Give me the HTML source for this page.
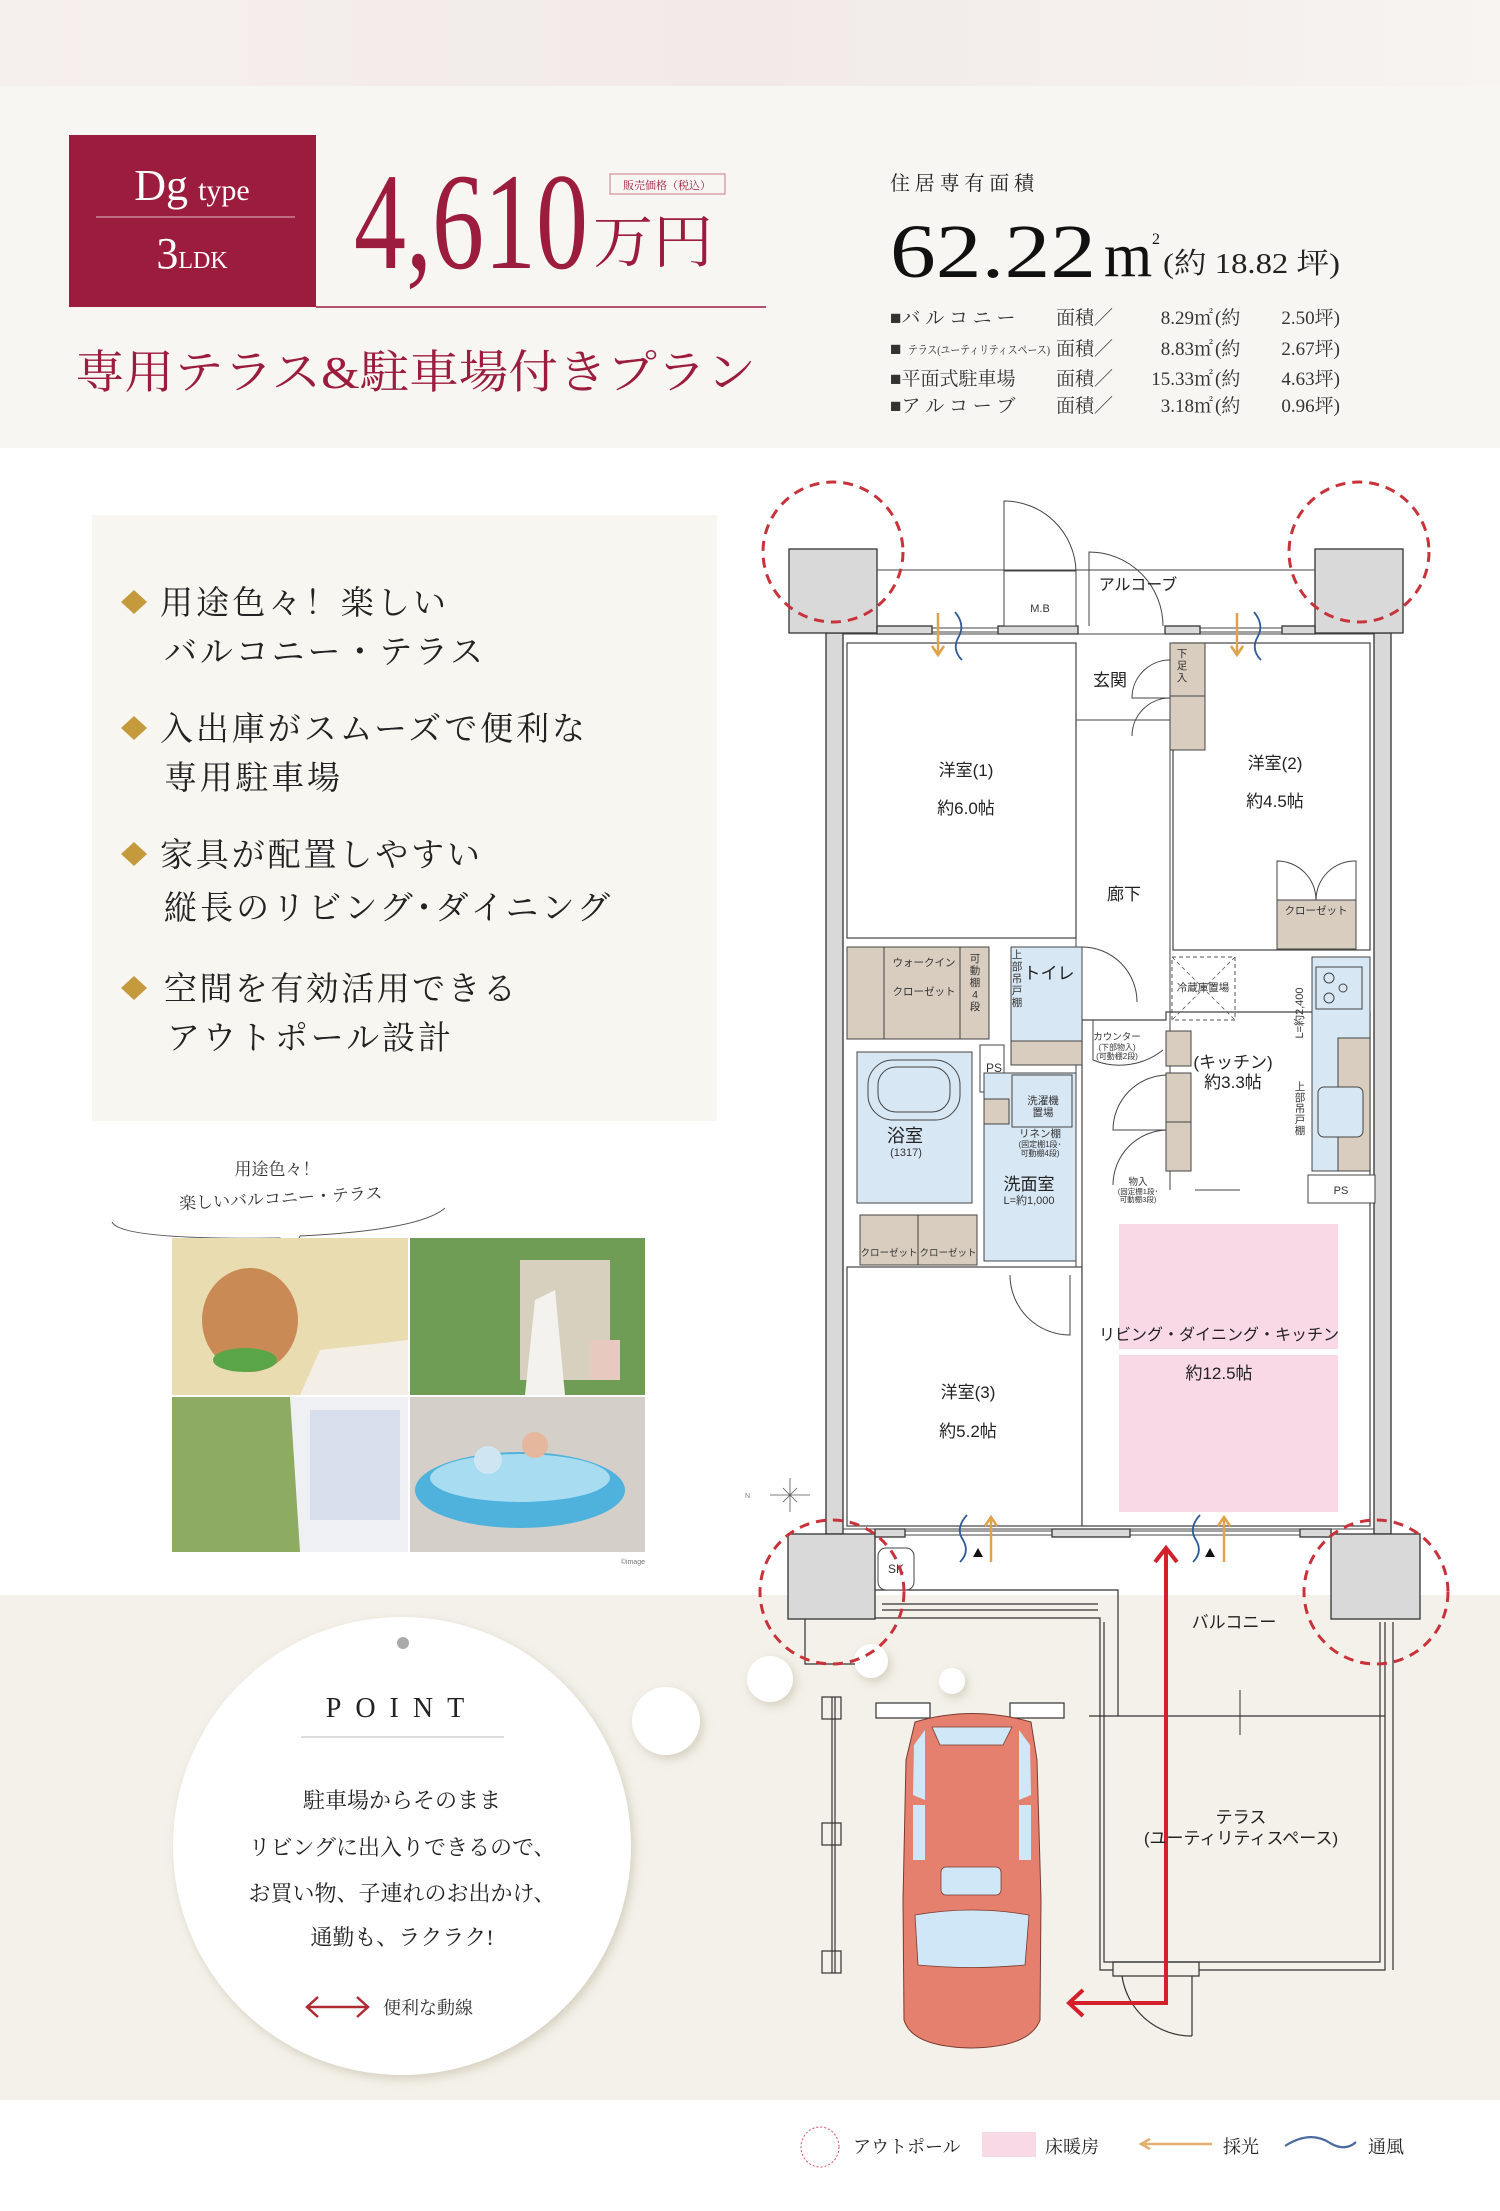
<!DOCTYPE html>
<html><head><meta charset="utf-8">
<style>
html,body{margin:0;padding:0;background:#fff;}
svg{display:block;}
.s{font-family:"Liberation Sans","Noto Sans CJK JP",sans-serif;}
.m{font-family:"Liberation Serif","Noto Serif CJK SC",serif;}
</style></head>
<body>
<svg width="1500" height="2211" viewBox="0 0 1500 2211" xmlns="http://www.w3.org/2000/svg">
<defs>
<linearGradient id="tg" x1="0" x2="1" y1="0" y2="0"><stop offset="0" stop-color="#f5efed"/><stop offset="0.5" stop-color="#f1eae8"/><stop offset="1" stop-color="#f7f4f1"/></linearGradient>
<filter id="sh" x="-20%" y="-20%" width="140%" height="140%"><feDropShadow dx="3" dy="4" stdDeviation="5" flood-color="#9a9070" flood-opacity="0.35"/></filter>
</defs>
<rect x="0" y="0" width="1500" height="2211" fill="#fff"/>
<rect x="0" y="0" width="1500" height="448" fill="#f8f6f2"/>
<rect x="0" y="0" width="1500" height="86" fill="url(#tg)"/>
<rect x="0" y="1595" width="1500" height="505" fill="#f4f1ea"/>

<rect x="69" y="135" width="247" height="172" fill="#9c1c3d"/>
<text x="192" y="200" text-anchor="middle" fill="#fff" class="m"><tspan font-size="44">Dg</tspan><tspan font-size="30" dx="10">type</tspan></text>
<line x1="96" y1="217" x2="295" y2="217" stroke="#fff" stroke-opacity="0.7" stroke-width="1"/>
<text x="192" y="268" text-anchor="middle" fill="#fff" class="m"><tspan font-size="44">3</tspan><tspan font-size="24">LDK</tspan></text>
<text x="354" y="268" font-size="138" fill="#9c1c3d" class="m" textLength="234" lengthAdjust="spacingAndGlyphs">4,610</text>
<text x="593" y="262" font-size="58" fill="#9c1c3d" class="m" textLength="120" lengthAdjust="spacingAndGlyphs">万円</text>
<rect x="610" y="174" width="115" height="20" fill="none" stroke="#c77a8a" stroke-width="1"/>
<text x="667" y="189" font-size="11" text-anchor="middle" fill="#9c1c3d" class="m">販売価格（税込）</text>
<line x1="316" y1="307" x2="766" y2="307" stroke="#9c1c3d" stroke-width="1.5"/>
<text x="75" y="388" font-size="46" fill="#9c1c3d" class="m" textLength="681" lengthAdjust="spacingAndGlyphs">専用テラス&amp;駐車場付きプラン</text>

<text x="890" y="190" font-size="20" fill="#222" class="m" textLength="144">住居専有面積</text>
<text x="890" y="277" font-size="76" fill="#111" class="m" textLength="206" lengthAdjust="spacingAndGlyphs">62.22</text>
<text x="1104" y="276" font-size="62" fill="#111" class="m">m</text>
<text x="1152" y="244" font-size="16" fill="#111" class="m">2</text>
<text x="1163" y="273" font-size="29" fill="#222" class="m" textLength="177" lengthAdjust="spacingAndGlyphs">(約 18.82 坪)</text>
<g font-size="19" fill="#333" class="m">
<text x="890" y="324">■バ ル コ ニ ー</text><text x="1056" y="324">面積／</text><text x="1213" y="324" text-anchor="end">8.29㎡</text><text x="1215" y="324">(約</text><text x="1340" y="324" text-anchor="end">2.50坪)</text>
<text x="890" y="355">■</text><text x="908" y="354" font-size="12" textLength="142" lengthAdjust="spacingAndGlyphs">テラス(ユーティリティスペース)</text><text x="1056" y="355">面積／</text><text x="1213" y="355" text-anchor="end">8.83㎡</text><text x="1215" y="355">(約</text><text x="1340" y="355" text-anchor="end">2.67坪)</text>
<text x="890" y="385">■平面式駐車場</text><text x="1056" y="385">面積／</text><text x="1213" y="385" text-anchor="end">15.33㎡</text><text x="1215" y="385">(約</text><text x="1340" y="385" text-anchor="end">4.63坪)</text>
<text x="890" y="412">■ア ル コ ー ブ</text><text x="1056" y="412">面積／</text><text x="1213" y="412" text-anchor="end">3.18㎡</text><text x="1215" y="412">(約</text><text x="1340" y="412" text-anchor="end">0.96坪)</text>
</g>

<rect x="92" y="515" width="625" height="606" fill="#f8f6f1"/>
<g fill="#c49a3c">
<path d="M121 602 L134 590 L147 602 L134 614Z"/>
<path d="M121 728 L134 716 L147 728 L134 740Z"/>
<path d="M121 854 L134 842 L147 854 L134 866Z"/>
<path d="M121 988 L134 976 L147 988 L134 1000Z"/>
</g>
<g font-size="33" fill="#222" class="m">
<text x="160" y="614" textLength="286">用途色々！楽しい</text>
<text x="164" y="663" textLength="319">バルコニー・テラス</text>
<text x="160" y="740" textLength="425">入出庫がスムーズで便利な</text>
<text x="164" y="789" textLength="176">専用駐車場</text>
<text x="160" y="866" textLength="320">家具が配置しやすい</text>
<text x="164" y="919" textLength="446">縦長のリビング･ダイニング</text>
<text x="164" y="1000" textLength="352">空間を有効活用できる</text>
<text x="167" y="1049" textLength="284">アウトポール設計</text>
</g>

<text x="277" y="1175" font-size="17" text-anchor="middle" fill="#333" class="m">用途色々！</text>
<text x="281" y="1204" font-size="17" text-anchor="middle" fill="#333" class="m" transform="rotate(-3 281 1204)">楽しいバルコニー・テラス</text>
<path d="M112 1222 Q120 1240 280 1238 L294 1250 L300 1236 Q420 1230 445 1208" fill="none" stroke="#555" stroke-width="1"/>
<rect x="172" y="1238" width="236" height="157" fill="#e9dcb0"/>
<ellipse cx="250" cy="1320" rx="48" ry="52" fill="#c98a55"/>
<ellipse cx="245" cy="1360" rx="32" ry="12" fill="#5aa548"/>
<path d="M300 1395 L320 1350 L408 1340 L408 1395Z" fill="#f3eee6"/>
<rect x="410" y="1238" width="235" height="157" fill="#6f9d55"/>
<rect x="520" y="1260" width="90" height="120" fill="#d7d0be"/>
<path d="M535 1300 L555 1290 L565 1395 L525 1395Z" fill="#f4f2ee"/>
<rect x="590" y="1340" width="30" height="40" fill="#e8c9c0"/>
<rect x="172" y="1397" width="236" height="155" fill="#8eab62"/>
<path d="M290 1397 L408 1397 L408 1552 L300 1552Z" fill="#eef0f4"/>
<path d="M310 1410 L400 1410 L400 1520 L310 1520Z" fill="#c7d3e4" opacity="0.6"/>
<rect x="410" y="1397" width="235" height="155" fill="#d4cfc8"/>
<ellipse cx="520" cy="1490" rx="105" ry="38" fill="#4fb2dd"/>
<ellipse cx="520" cy="1478" rx="90" ry="24" fill="#a8dcf0"/>
<circle cx="535" cy="1445" r="13" fill="#e5b89d"/>
<circle cx="488" cy="1460" r="14" fill="#cfe6f2"/>
<text x="645" y="1564" font-size="7" text-anchor="end" fill="#777" class="s">©image</text>

<g filter="url(#sh)" fill="#fff">
<circle cx="666" cy="1721" r="34"/>
<circle cx="770" cy="1679" r="23"/>
<circle cx="871" cy="1661" r="17"/>
<circle cx="952" cy="1681" r="13"/>
<circle cx="402" cy="1846" r="229"/>
</g>
<circle cx="403" cy="1643" r="6" fill="#aaa"/>
<text x="402" y="1717" font-size="28" text-anchor="middle" fill="#222" class="m" letter-spacing="14">POINT</text>
<line x1="301" y1="1737" x2="504" y2="1737" stroke="#bbb" stroke-width="1"/>
<g font-size="22" text-anchor="middle" fill="#222" class="m">
<text x="402" y="1808">駐車場からそのまま</text>
<text x="402" y="1855">リビングに出入りできるので、</text>
<text x="402" y="1901">お買い物、子連れのお出かけ、</text>
<text x="402" y="1945">通勤も、ラクラク!</text>
</g>
<g stroke="#b02a33" stroke-width="2.5" fill="none"><line x1="307" y1="2007" x2="368" y2="2007"/><path d="M318 1997 L307 2007 L318 2017 M357 1997 L368 2007 L357 2017"/></g>
<text x="383" y="2014" font-size="18" fill="#333" class="m">便利な動線</text>

<g stroke="#333" stroke-width="1.2" fill="none">
<path d="M875 1590 L1118 1590 L1118 1716"/>
<path d="M875 1618 L1100 1618 L1100 1970 L1113 1970 M1199 1970 L1385 1970 L1385 1622"/>
<path d="M882 1610 L1098 1610 M882 1604 L1098 1604"/>
<path d="M1089 1716 L1385 1716"/>
<path d="M1104 1622 L1104 1962 L1380 1962 L1380 1622"/>
<path d="M1113 1962 L1199 1962 L1199 1976 L1113 1976Z"/>
<path d="M1192 1976 L1192 2036 M1192 2036 A70 70 0 0 1 1122 1976"/>
<path d="M1393 1622 L1393 1970"/>
<path d="M1240 1690 L1240 1735" stroke-width="1"/>
<line x1="832" y1="1697" x2="832" y2="1973"/><line x1="835" y1="1697" x2="835" y2="1973"/>
<rect x="822" y="1697" width="19" height="22"/><rect x="822" y="1823" width="19" height="22"/><rect x="822" y="1951" width="19" height="22"/>
<rect x="876" y="1703" width="54" height="15" fill="#fff"/><rect x="1010" y="1703" width="54" height="15" fill="#fff"/>
<path d="M805 1619 L805 1664 L855 1664"/>
</g>

<g>
<path d="M915 1722 Q972 1705 1031 1722 L1037 1760 L1041 1900 L1040 2020 Q1030 2047 972 2048 Q912 2047 904 2020 L903 1900 L906 1760Z" fill="#e5806f" stroke="#7a3b30" stroke-width="1"/>
<path d="M932 1727 L1012 1727 L1003 1745 L940 1745Z" fill="#cfe7f7" stroke="#7a3b30" stroke-width="0.8"/>
<path d="M914 1745 L925 1730 L925 1800 L913 1795Z" fill="#cfe7f7"/>
<path d="M1030 1745 L1019 1730 L1019 1800 L1031 1795Z" fill="#cfe7f7"/>
<rect x="941" y="1867" width="60" height="28" rx="5" fill="#cfe7f7" stroke="#7a3b30" stroke-width="0.8"/>
<path d="M915 1915 Q972 1905 1029 1915 L1025 1965 Q972 1970 918 1965Z" fill="#cfe7f7" stroke="#7a3b30" stroke-width="0.8"/>
<rect x="913" y="1805" width="12" height="55" fill="#cfe7f7"/><rect x="1019" y="1805" width="12" height="55" fill="#cfe7f7"/>
</g>

<g stroke="#333" stroke-width="1.3">
<rect x="826" y="633" width="17" height="901" fill="#d9d9d9"/>
<rect x="1374" y="633" width="17" height="901" fill="#d9d9d9"/>
<rect x="789" y="549" width="88" height="84" fill="#d9d9d9"/>
<rect x="1315" y="549" width="88" height="84" fill="#d9d9d9"/>
<rect x="788" y="1534" width="87" height="85" fill="#d9d9d9"/>
<rect x="1331" y="1534" width="89" height="85" fill="#d9d9d9"/>
<rect x="877" y="626" width="55" height="8" fill="#d9d9d9"/>
<rect x="998" y="626" width="80" height="8" fill="#d9d9d9"/>
<rect x="1165" y="626" width="35" height="8" fill="#d9d9d9"/>
<rect x="1282" y="626" width="33" height="8" fill="#d9d9d9"/>
<rect x="875" y="1529" width="30" height="8" fill="#d9d9d9"/>
<rect x="1052" y="1529" width="78" height="8" fill="#d9d9d9"/>
<rect x="1300" y="1529" width="31" height="8" fill="#d9d9d9"/>
</g>
<g stroke="#444" stroke-width="1" fill="none">
<line x1="877" y1="570" x2="1315" y2="570"/>
<path d="M932 628 L998 628 M932 632 L998 632 M1200 628 L1282 628 M1200 632 L1282 632"/>
<path d="M905 1531 L1052 1531 M905 1535 L1052 1535 M1130 1531 L1300 1531 M1130 1535 L1300 1535"/>
<line x1="843" y1="634" x2="1374" y2="634"/>
<line x1="843" y1="1529" x2="1374" y2="1529"/>
<rect x="1004" y="571" width="72" height="55" fill="#fff"/>
<path d="M1004 571 L1004 501 A72 72 0 0 1 1076 571"/>
<path d="M1089 626 L1089 552 A74 74 0 0 1 1163 626"/>
</g>
<text x="1040" y="612" font-size="11" text-anchor="middle" fill="#333" class="s">M.B</text>
<text x="1138" y="590" font-size="16" text-anchor="middle" fill="#222" class="s">アルコーブ</text>

<g stroke="#444" stroke-width="1.2" fill="#fff">
<rect x="847" y="643" width="229" height="295"/>
<rect x="1173" y="643" width="197" height="307"/>
<rect x="847" y="1267" width="235" height="259"/>
<path d="M1082 1020 L1166 1020 L1166 1012 L1370 1012 L1370 1526 L1082 1526Z"/>
</g>
<g stroke="#444" stroke-width="1" fill="none">
<line x1="1076" y1="720" x2="1170" y2="720"/>
<line x1="1076" y1="643" x2="1076" y2="1267"/>
<line x1="1170" y1="750" x2="1170" y2="1190"/>
<line x1="1082" y1="1267" x2="1082" y2="1526"/>
<path d="M1195 1190 L1240 1190"/>
<path d="M1093 1020 L1093 1060 A70 70 0 0 0 1163 1050"/>
<path d="M1010 1275 A60 60 0 0 0 1070 1335 L1070 1275"/>
<path d="M1168 1075 A55 55 0 0 0 1113 1130 L1168 1130 M1168 1130 A55 55 0 0 0 1113 1185"/>
<path d="M1170 660 A38 38 0 0 0 1132 698 L1170 698 M1170 698 A38 38 0 0 0 1132 736"/>
<path d="M1082 947 A55 55 0 0 1 1137 1002"/>
</g>
<g stroke="#444" stroke-width="1">
<rect x="847" y="947" width="142" height="92" fill="#d9cdbf"/>
<line x1="884" y1="947" x2="884" y2="1039"/><line x1="960" y1="947" x2="960" y2="1039"/>
<rect x="1011" y="947" width="71" height="118" fill="#d8e7f4"/>
<rect x="1011" y="1041" width="71" height="24" fill="#d9cdbf"/>
<rect x="857" y="1052" width="115" height="151" fill="#d8e7f4"/>
<rect x="868" y="1060" width="92" height="60" rx="25" fill="#d8e7f4"/>
<rect x="878" y="1067" width="72" height="45" rx="18" fill="#d8e7f4"/>
<rect x="980" y="1045" width="24" height="47" fill="#fff"/>
<rect x="984" y="1073" width="92" height="188" fill="#d8e7f4"/>
<rect x="984" y="1099" width="25" height="25" fill="#d9cdbf"/>
<rect x="1012" y="1075" width="60" height="52" fill="#d8e7f4"/>
<rect x="860" y="1215" width="58" height="50" fill="#d9cdbf"/><rect x="918" y="1215" width="59" height="50" fill="#d9cdbf"/>
<rect x="1170" y="643" width="35" height="107" fill="#d9cdbf"/><line x1="1170" y1="696" x2="1205" y2="696"/>
<rect x="1277" y="900" width="79" height="49" fill="#d9cdbf"/>
<path d="M1277 900 L1277 861 A39 39 0 0 1 1316 900 A39 39 0 0 1 1356 861 L1356 900" fill="none"/>
<rect x="1312" y="957" width="58" height="214" fill="#d8e7f4"/>
<rect x="1338" y="1038" width="32" height="133" fill="#d9cdbf"/>
<rect x="1318" y="1087" width="45" height="50" rx="6" fill="#d8e7f4"/>
<rect x="1316" y="967" width="46" height="42" fill="#d8e7f4"/>
<circle cx="1329" cy="978" r="5" fill="none"/><circle cx="1329" cy="998" r="5" fill="none"/><circle cx="1343" cy="988" r="4" fill="none"/>
<rect x="1308" y="1175" width="67" height="28" fill="#fff"/>
<rect x="1166" y="1031" width="25" height="35" fill="#d9cdbf"/>
<rect x="1166" y="1073" width="25" height="98" fill="#d9cdbf"/><line x1="1166" y1="1122" x2="1191" y2="1122"/>
<rect x="878" y="1548" width="36" height="42" rx="8" fill="#fff"/>
</g>
<rect x="1172" y="957" width="63" height="63" fill="none" stroke="#555" stroke-width="1" stroke-dasharray="4 3"/>
<path d="M1172 957 L1235 1020 M1235 957 L1172 1020" stroke="#555" stroke-width="0.8" stroke-dasharray="4 3"/>
<rect x="1119" y="1224" width="219" height="125" fill="#f8d9e5"/>
<rect x="1119" y="1355" width="219" height="157" fill="#f8d9e5"/>

<g font-size="17" text-anchor="middle" fill="#222" class="s">
<text x="966" y="776">洋室(1)</text><text x="966" y="814">約6.0帖</text>
<text x="1275" y="769">洋室(2)</text><text x="1275" y="807">約4.5帖</text>
<text x="1110" y="686">玄関</text>
<text x="1124" y="900">廊下</text>
<text x="1049" y="979">トイレ</text>
<text x="905" y="1142" font-size="18">浴室</text>
<text x="1029" y="1190">洗面室</text>
<text x="968" y="1398">洋室(3)</text><text x="968" y="1437">約5.2帖</text>
<text x="1219" y="1340" font-size="16">リビング・ダイニング・キッチン</text>
<text x="1219" y="1379">約12.5帖</text>
<text x="1233" y="1068">(キッチン)</text><text x="1233" y="1088">約3.3帖</text>
</g>
<g font-size="10.5" text-anchor="middle" fill="#333" class="s">
<text x="924" y="966">ウォークイン</text><text x="924" y="995">クローゼット</text>
<text x="975" y="962">可</text><text x="975" y="974">動</text><text x="975" y="986">棚</text><text x="975" y="998">4</text><text x="975" y="1010">段</text>
<text x="1017" y="958">上</text><text x="1017" y="970">部</text><text x="1017" y="982">吊</text><text x="1017" y="994">戸</text><text x="1017" y="1006">棚</text>
<text x="906" y="1156" font-size="11">(1317)</text>
<text x="994" y="1072" font-size="12">PS</text>
<text x="1043" y="1104">洗濯機</text><text x="1043" y="1116">置場</text>
<text x="1040" y="1137">リネン棚</text><text x="1040" y="1147" font-size="8">(固定棚1段･</text><text x="1040" y="1156" font-size="8">可動棚4段)</text>
<text x="1029" y="1204" font-size="11">L=約1,000</text>
<text x="889" y="1256" font-size="9.5">クローゼット</text><text x="948" y="1256" font-size="9.5">クローゼット</text>
<text x="1203" y="991">冷蔵庫置場</text>
<text x="1316" y="914">クローゼット</text>
<text x="1117" y="1040" font-size="9.5">カウンター</text><text x="1117" y="1050" font-size="8">(下部物入)</text><text x="1117" y="1059" font-size="8">(可動棚2段)</text>
<text x="1138" y="1185" font-size="9.5">物入</text><text x="1138" y="1194" font-size="7.5">(固定棚1段･</text><text x="1138" y="1202" font-size="7.5">可動棚3段)</text>
<text x="1341" y="1194" font-size="11">PS</text>
<text x="1182" y="657">下</text><text x="1182" y="669">足</text><text x="1182" y="681">入</text>
<text x="1300" y="1090">上</text><text x="1300" y="1101">部</text><text x="1300" y="1112">吊</text><text x="1300" y="1123">戸</text><text x="1300" y="1134">棚</text>
<text x="896" y="1573" font-size="12">SK</text>
</g>
<text x="1303" y="1013" font-size="11" text-anchor="middle" fill="#333" class="s" transform="rotate(-90 1303 1013)">L=約2,400</text>

<g stroke="#e0a24a" stroke-width="2.5" fill="none">
<path d="M938 613 L938 655 M932 646 L938 655 L944 646"/>
<path d="M1237 613 L1237 655 M1231 646 L1237 655 L1243 646"/>
<path d="M991 1562 L991 1517 M985 1526 L991 1517 L997 1526"/>
<path d="M1224 1562 L1224 1517 M1218 1526 L1224 1517 L1230 1526"/>
</g>
<g stroke="#2f5c99" stroke-width="1.8" fill="none">
<path d="M955 612 Q966 625 958 638 Q952 650 962 660"/>
<path d="M1254 612 Q1265 625 1257 638 Q1251 650 1261 660"/>
<path d="M967 1515 Q955 1528 963 1540 Q970 1552 960 1562"/>
<path d="M1200 1515 Q1188 1528 1196 1540 Q1203 1552 1193 1562"/>
</g>
<path d="M973 1557 L978 1548 L983 1557Z M1205 1557 L1210 1548 L1215 1557Z" fill="#111"/>
<g stroke="#555" stroke-width="0.8" fill="none"><path d="M770 1495 L810 1495 M790 1478 L790 1512"/><path d="M783 1488 L797 1502 M797 1488 L783 1502"/></g>
<text x="745" y="1498" font-size="7" fill="#777" class="s">N</text>

<g stroke="#d3202a" stroke-width="4" fill="none">
<path d="M1166 1550 L1166 2003 L1072 2003"/>
<path d="M1155 1562 L1166 1548 L1177 1562"/>
<path d="M1083 1990 L1069 2003 L1083 2016"/>
</g>

<g stroke="#c8323a" stroke-width="3" fill="none" stroke-dasharray="10 7">
<circle cx="833" cy="552" r="70"/>
<circle cx="1359" cy="552" r="70"/>
<circle cx="832" cy="1592" r="72"/>
<circle cx="1376" cy="1592" r="72"/>
</g>

<text x="1234" y="1628" font-size="17" text-anchor="middle" fill="#222" class="s">バルコニー</text>
<text x="1241" y="1823" font-size="17" text-anchor="middle" fill="#222" class="s">テラス</text>
<text x="1241" y="1844" font-size="17" text-anchor="middle" fill="#222" class="s">(ユーティリティスペース)</text>

<ellipse cx="820" cy="2147" rx="19" ry="20" fill="none" stroke="#d05060" stroke-width="1" stroke-dasharray="2 2"/>
<text x="853" y="2153" font-size="18" fill="#222" class="m">アウトポール</text>
<rect x="982" y="2132" width="54" height="25" fill="#f8d9e5"/>
<text x="1045" y="2153" font-size="18" fill="#222" class="m">床暖房</text>
<g stroke="#e0b070" stroke-width="2.5" fill="none"><line x1="1142" y1="2144" x2="1212" y2="2144"/><path d="M1150 2139 L1141 2144 L1150 2149"/></g>
<text x="1223" y="2153" font-size="18" fill="#222" class="m">採光</text>
<path d="M1285 2146 Q1310 2130 1330 2143 Q1345 2152 1356 2142" fill="none" stroke="#4a6aa0" stroke-width="2.2"/>
<text x="1368" y="2153" font-size="18" fill="#222" class="m">通風</text>
</svg>
</body></html>
